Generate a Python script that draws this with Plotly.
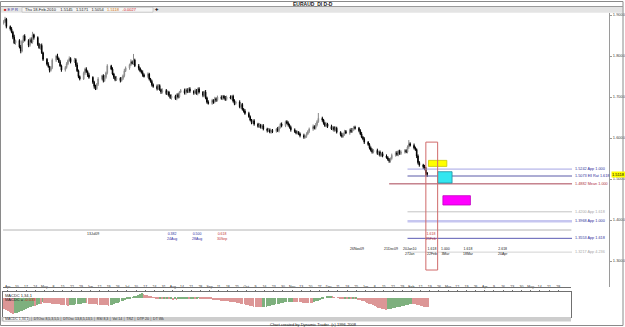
import numpy as np
import pandas as pd
import plotly.graph_objects as go

W, H = 625, 327

# ---------------- data ----------------
symbol_title = "EURAUD_DI D-D"
start_date = "2009-04-01"
first_open = 1.880

closes = [
    1.884, 1.890, 1.872, 1.866, 1.858, 1.846, 1.832, 1.838, 1.822, 1.812,
    1.836, 1.849, 1.838, 1.826, 1.840, 1.834, 1.852, 1.845, 1.828, 1.820,
    1.826, 1.808, 1.792, 1.780, 1.774, 1.765, 1.772, 1.790, 1.800, 1.794,
    1.786, 1.776, 1.766, 1.772, 1.781, 1.789, 1.794, 1.786, 1.791, 1.778,
    1.764, 1.750, 1.744, 1.758, 1.768, 1.762, 1.754, 1.748, 1.736, 1.726,
    1.720, 1.731, 1.744, 1.752, 1.740, 1.748, 1.759, 1.776, 1.768, 1.756,
    1.748, 1.742, 1.746, 1.740, 1.745, 1.752, 1.764, 1.771, 1.779, 1.786,
    1.782, 1.790, 1.776, 1.770, 1.764, 1.760, 1.754, 1.750, 1.756, 1.744,
    1.738, 1.730, 1.726, 1.720, 1.728, 1.718, 1.712, 1.716, 1.708, 1.712,
    1.704, 1.698, 1.702, 1.696, 1.706, 1.700, 1.712, 1.716, 1.710, 1.718,
    1.713, 1.720, 1.714, 1.710, 1.716, 1.708, 1.720, 1.712, 1.704, 1.712,
    1.698, 1.688, 1.684, 1.692, 1.688, 1.696, 1.692, 1.700, 1.696, 1.702,
    1.698, 1.694, 1.700, 1.697, 1.702, 1.690, 1.684, 1.688, 1.676, 1.682,
    1.670, 1.666, 1.660, 1.652, 1.644, 1.638, 1.642, 1.634, 1.628, 1.632,
    1.626, 1.630, 1.622, 1.618, 1.620, 1.614, 1.618, 1.616, 1.622, 1.618,
    1.626, 1.634, 1.630, 1.640, 1.636, 1.632, 1.626, 1.620, 1.616, 1.612,
    1.614, 1.610, 1.606, 1.602, 1.604, 1.610, 1.616, 1.622, 1.628, 1.624,
    1.632, 1.640, 1.648, 1.644, 1.636, 1.630, 1.634, 1.628, 1.622, 1.626,
    1.620, 1.624, 1.614, 1.608, 1.604, 1.610, 1.616, 1.612, 1.620, 1.616,
    1.622, 1.626, 1.624, 1.618, 1.610, 1.602, 1.598, 1.590, 1.584, 1.576,
    1.570, 1.566, 1.570, 1.562, 1.566, 1.558, 1.562, 1.556, 1.552, 1.548,
    1.544, 1.550, 1.558, 1.564, 1.560, 1.568, 1.562, 1.566, 1.570, 1.566,
    1.578, 1.586, 1.582, 1.576, 1.572, 1.556, 1.540, 1.534, 1.530, 1.526,
    1.5145, 1.5118,
]

# wick lengths above / below the candle body, in pips
upper_wick_pips = [
    40, 55, 30, 25, 45, 35, 60, 20, 30, 50, 35, 25, 40, 30, 45, 55, 70, 25, 30, 40,
    35, 45, 25, 30, 50, 20, 35, 40, 30, 55, 25, 45, 30, 35, 40, 25, 50, 30, 45, 35,
    60, 30, 25, 40, 35, 45, 30, 50, 25, 35, 40, 30, 45, 20, 35, 55, 30, 40, 25, 45,
    30, 35, 50, 25, 40, 30, 45, 35, 25, 60, 30, 150, 35, 45, 25, 30, 50, 35, 40, 30,
    25, 40, 30, 45, 35, 30, 25, 50, 35, 40, 30, 25, 45, 35, 30, 40, 25, 35, 45, 30,
    35, 30, 40, 25, 45, 35, 30, 40, 25, 35, 50, 30, 40, 35, 25, 45, 30, 35, 40, 25,
    30, 45, 35, 40, 25, 35, 45, 30, 40, 25, 35, 30, 45, 40, 30, 25, 35, 40, 30, 45,
    25, 35, 40, 30, 45, 35, 30, 40, 25, 50, 35, 30, 40, 25, 35, 45, 30, 40, 35, 30,
    40, 30, 35, 45, 25, 40, 30, 35, 50, 30, 45, 35, 130, 40, 25, 35, 40, 30, 45, 35,
    30, 40, 35, 25, 45, 30, 40, 35, 30, 45, 25, 35, 40, 30, 35, 45, 30, 40, 25, 35,
    35, 45, 30, 40, 25, 35, 30, 45, 40, 35, 30, 25, 40, 35, 45, 30, 35, 40, 30, 25,
    40, 90, 35, 45, 30, 25, 40, 35, 30, 45, 35, 26,
]
lower_wick_pips = [
    35, 30, 45, 40, 25, 50, 30, 45, 35, 55, 30, 40, 25, 45, 35, 30, 40, 50, 35, 25,
    45, 30, 40, 35, 25, 50, 30, 40, 45, 35, 30, 25, 45, 40, 30, 35, 25, 40, 30, 45,
    30, 40, 35, 25, 45, 30, 50, 35, 40, 55, 30, 25, 40, 35, 45, 30, 35, 40, 25, 30,
    40, 35, 30, 45, 25, 35, 40, 30, 45, 35, 25, 40, 30, 50, 35, 30, 45, 25, 40, 35,
    30, 45, 35, 40, 25, 30, 45, 35, 30, 40, 35, 25, 45, 30, 40, 35, 30, 25, 40, 45,
    35, 30, 40, 45, 30, 25, 40, 35, 45, 30, 35, 40, 25, 30, 45, 35, 40, 30, 25, 35,
    40, 35, 30, 25, 45, 35, 40, 30, 35, 45, 30, 40, 35, 25, 30, 45, 35, 40, 30, 35,
    30, 40, 35, 45, 30, 25, 35, 40, 30, 35, 45, 30, 40, 35, 25, 40, 30, 45, 35, 30,
    35, 30, 45, 40, 30, 35, 25, 40, 45, 30, 35, 40, 30, 45, 35, 30, 40, 35, 25, 40,
    45, 35, 30, 40, 35, 30, 45, 25, 40, 35, 30, 45, 35, 40, 30, 25, 35, 45, 30, 40,
    30, 40, 35, 30, 45, 35, 40, 30, 25, 35, 45, 40, 30, 35, 40, 45, 30, 35, 40, 30,
    35, 45, 30, 40, 35, 50, 45, 40, 55, 45, 60, 64,
]

macd_hist = [
    -26, -29, -32, -34, -36, -37,
    -36, -35, -33, -32, -30, -29, -27, -25, -23,
    -21, -19, -20, -17, -14, -15, -11,
    -12, -12.5, -13, -13.5, -14, -14.5, -15, -15.5, -16, -16.5, -17, -17.5, -18, -18.5,
    -18, -17.5, -17, -16, -15.5, -15, -14, -13.5, -13,
    -13.5, -14, -14.5, -15, -15.5, -16, -16.5, -17, -17, -17.5, -18, -18, -18.5,
    -18, -16.5, -15, -13.5, -12, -10.5, -9, -7.5, -6, -4.5, -3,
    -1.5, 0.5, 2.5, 4.5, 6.5, 8, 9.5,
    8, 6.5, 5, 3.5,
    2, 0.5, -1, -2.5, -3, -2.5, -3.5, -3, -4, -3.5, -4.5, -4, -5, -4.5,
    -5, -4.5, -4, -3.5, -3, -2.5, -2, -2.5, -2, -1.5, -2, -1.5, -1, -1.5,
    -2, -2.5, -3, -3.5, -4, -4.5, -5, -5.5, -6, -6.5, -7, -7.5, -8, -8.5, -9, -9.5, -10, -10.5,
    -11, -12, -13, -14, -15, -16, -17, -18, -19, -20, -21, -21.5, -22, -22.5, -23,
    -22.5, -22, -21, -20, -19, -18, -17, -16, -15, -14, -13, -12, -11.5, -11, -10.5, -10, -9.5,
    -10, -10.5, -11, -11.2, -11.5, -11.7, -12, -12.2, -12.5, -12.6, -12.8,
    -11, -9, -7, -5, -3, -1.5, 0, 1.5, 2.5, 3,
    2, 1, 0, -1, -2, -2.5, -3, -2.5, -3.5, -3, -4, -3.5, -4.5, -4, -5, -6, -7,
    -8, -10, -12, -14, -16, -18, -20, -22, -24, -25, -26, -27, -28,
    -27.5, -27, -26, -25, -24, -23, -22, -21, -20, -19, -18, -17, -16, -15,
    -15.5, -16, -17, -18, -19, -20, -21, -22, -23,
]

level_values = [1.5242, 1.5073, 1.4882, 1.4200, 1.3968, 1.3553, 1.3217]
level_labels = ["1.5242 App 1.000", "1.5073 Ell Rat 1.618", "1.4882 Mean 1.000",
                "1.4200 App 1.618", "1.3968 App 1.000", "1.3553 App 1.618",
                "1.3217 App 4.236"]
level_starts = ["2010-02-03", "2010-02-03", "2010-01-20", "2010-02-03",
                "2010-02-03", "2010-02-03", "2010-02-03"]
level_end = "2010-06-08 12:00"
baseline_level = 1.3756
baseline_span = ["2009-03-31 12:00", "2010-06-08"]

zone_x0 = ["2010-02-19", "2010-02-26", "2010-03-02"]
zone_x1 = ["2010-03-05", "2010-03-09", "2010-03-23"]
zone_y0 = [1.5307, 1.4902, 1.4366]
zone_y1 = [1.5454, 1.5178, 1.4593]
window_dates = ["2010-02-17", "2010-02-26"]
window_prices = [1.278, 1.590]

ytick_vals = [1.3, 1.4, 1.5, 1.6, 1.7, 1.8, 1.9]
ytick_text = ["1.3000", "1.4000", "1.5000", "1.6000", "1.7000", "1.8000", "1.9000"]
last_price = 1.5118
info_date = "Thu 18-Feb-2010"
info_ohlc = ["1.5145", "1.5171", "1.5054", "1.5118"]
info_change = "-0.0027"
macd_name = "MACDC 1,34,1"
macd_value = "-0.033"

time_labels_row1 = [("13Jul09", 93, "#202020"), ("0.382<br>24Aug", 172, "#2a2aa0"),
                    ("0.500<br>28Aug", 197, "#2a2aa0"), ("0.618<br>30Sep", 222, "#c03030"),
                    ("1.618<br>25Feb", 431, "#c03030")]
time_labels_row2 = [("26Nov09", 357, "#202020"), ("21Dec09", 391, "#202020"),
                    ("20Jan10<br>27Jan", 409, "#202020"), ("1.618<br>22Feb", 432, "#202020"),
                    ("1.000<br>3Mar", 445, "#202020"), ("1.618<br>18Mar", 468, "#202020"),
                    ("2.618<br>20Apr", 503, "#202020")]

# ---------------- derived ----------------
dates = pd.bdate_range(start_date, periods=len(closes))
opens = [first_open] + closes[:-1]
highs = [max(o, c) + u / 10000 for o, c, u in zip(opens, closes, upper_wick_pips)]
lows = [min(o, c) - l / 10000 for o, c, l in zip(opens, closes, lower_wick_pips)]
RED, GREEN = "#dc9696", "#7eb07e"
bar_colors = [RED] + [GREEN if macd_hist[i] > macd_hist[i - 1] else RED
                      for i in range(1, len(macd_hist))]

fridays = pd.date_range("2009-04-03", "2010-05-28", freq="W-FRI")
friday_labels = [d.strftime("%b") if d.day <= 7 else str(d.day) for d in fridays]

# ---------------- layout helpers ----------------
X0, S = 4.0, 1.835  # px of first candle centre, px per trading day
bgrid = pd.bdate_range("2009-03-02", periods=500)
k0 = bgrid.get_loc(pd.Timestamp(start_date))


def bd(i):
    f = int(np.floor(i))
    return bgrid[k0 + f] + pd.Timedelta(days=float(i - f))


def PX(x):
    return x / W


def PY(y):
    return 1 - y / H


FONT = "Liberation Sans"
rb = [dict(bounds=["sat", "mon"])]

fig = go.Figure()
fig.add_trace(go.Candlestick(
    x=dates, open=opens, high=highs, low=lows, close=closes,
    increasing=dict(line=dict(color="#8a8a8a", width=1), fillcolor="#c6c6c6"),
    decreasing=dict(line=dict(color="#000000", width=1), fillcolor="#000000"),
    whiskerwidth=0, xaxis="x", yaxis="y", showlegend=False, hoverinfo="skip"))
fig.add_trace(go.Bar(
    x=dates, y=macd_hist, marker=dict(color=bar_colors, line=dict(width=0)),
    width=0.42 * 86400000, xaxis="x2", yaxis="y2", showlegend=False, hoverinfo="skip"))

shapes = []
# outer frame and header bands
shapes.append(dict(type="rect", xref="paper", yref="paper", x0=PX(0.5), x1=PX(623), y0=PY(325.5), y1=PY(1.5),
                   line=dict(color="#8a8a8a", width=1)))
shapes.append(dict(type="rect", xref="paper", yref="paper", x0=PX(1), x1=PX(622.5), y0=PY(12.8), y1=PY(6.5),
                   fillcolor="#e4e4e4", line=dict(width=0), layer="below"))
shapes.append(dict(type="line", xref="paper", yref="paper", x0=PX(0.5), x1=PX(623), y0=PY(6.5), y1=PY(6.5),
                   line=dict(color="#9a9a9a", width=1)))
shapes.append(dict(type="rect", xref="paper", yref="paper", x0=PX(22), x1=PX(153), y0=PY(12.2), y1=PY(7.3),
                   fillcolor="#f6f6f6", line=dict(color="#b4b4b4", width=0.6)))
# strip above MACD + status bar
shapes.append(dict(type="line", xref="paper", yref="paper", x0=PX(3), x1=PX(571), y0=PY(287.5), y1=PY(287.5),
                   line=dict(color="#707070", width=1)))
shapes.append(dict(type="rect", xref="paper", yref="paper", x0=PX(1.5), x1=PX(571), y0=PY(321.5), y1=PY(317),
                   fillcolor="#cdcdcd", line=dict(width=0)))
shapes.append(dict(type="rect", xref="paper", yref="paper", x0=PX(3), x1=PX(29), y0=PY(321), y1=PY(317.6),
                   fillcolor="#ffffff", line=dict(color="#808080", width=0.5)))

# level lines
level_line_colors = ["#a4a4e4", "#5a5aa8", "#a84454", "#c4c4c4", "#c6c6f0", "#5c5cb4", "#d2d2d2"]
level_line_widths = [1, 1, 1, 1, 2.5, 1, 1]
level_text_colors = ["#30309a", "#30309a", "#b03040", "#a8a8a8", "#30309a", "#30309a", "#a8a8a8"]
for v, s0, c, w in zip(level_values, level_starts, level_line_colors, level_line_widths):
    shapes.append(dict(type="line", xref="x", yref="y", x0=s0, x1=level_end, y0=v, y1=v,
                       line=dict(color=c, width=w)))
shapes.append(dict(type="line", xref="x", yref="y", x0=baseline_span[0], x1=baseline_span[1],
                   y0=baseline_level, y1=baseline_level, line=dict(color="#b4b4b4", width=1)))

# zones
zone_fill = ["#ffff00", "#33e6f0", "#ff00ff"]
zone_line = ["#c8c800", "#2090a0", "#c000c0"]
for a, b, c, d, f, l in zip(zone_x0, zone_x1, zone_y0, zone_y1, zone_fill, zone_line):
    shapes.append(dict(type="rect", xref="x", yref="y", x0=a, x1=b, y0=c, y1=d,
                       fillcolor=f, line=dict(color=l, width=0.8)))
shapes.append(dict(type="rect", xref="x", yref="y", x0=window_dates[0], x1=window_dates[1],
                   y0=window_prices[0], y1=window_prices[1], line=dict(color="#d06a6a", width=1)))

annotations = []


def ann(x, y, text, size=4, color="#202020", xanchor="left", yanchor="middle", xref="paper", yref="paper", **kw):
    annotations.append(dict(x=x, y=y, xref=xref, yref=yref, text=text, showarrow=False,
                            xanchor=xanchor, yanchor=yanchor, align="center" if xanchor == "center" else "left",
                            font=dict(family=FONT, size=size, color=color), borderpad=0, **kw))


ann(PX(313), PY(4.2), "<b>" + symbol_title + "</b>", size=5, xanchor="center")
ann(PX(2.5), PY(9.6), "<span style='color:#cc2020'>■</span> <span style='color:#3030a0'>E P R</span>", size=4)
info = (info_date + "&nbsp;&nbsp;&nbsp;&nbsp;" + "&nbsp;&nbsp;&nbsp;".join(info_ohlc[:3])
        + "&nbsp;&nbsp;&nbsp;<span style='color:#d07000'>" + info_ohlc[3] + "</span>"
        + "&nbsp;&nbsp;&nbsp;<span style='color:#d02020'>" + info_change + "</span>")
ann(PX(24), PY(9.7), info, size=4)
ann(PX(157), PY(9.5), "✚", size=4, xanchor="center")

for v, t, c in zip(level_values, level_labels, level_text_colors):
    ann(PX(574), v, t, size=3.8, color=c, yref="y")

for t, x, c in time_labels_row1:
    ann(PX(x), PY(231), t, size=3.5, color=c, xanchor="center", yanchor="top")
for t, x, c in time_labels_row2:
    ann(PX(x), PY(246), t, size=3.5, color=c, xanchor="center", yanchor="top")

ann(PX(610.5), last_price, info_ohlc[3], size=4, color="#000000", yref="y",
    bgcolor="#ffff00")

ann(PX(4), PY(295), macd_name, size=4)
ann(PX(4), PY(299.2), "MACDC = <span style='color:#d02020'>" + macd_value + "</span>", size=4)
ann(PX(4), PY(319.3), macd_name + "&nbsp;&nbsp;│ DTOsc 8,5,3,5,5 │ DTOsc 13,8,5,13,5 │ RSI 8,3 │ Vol 14 │ TRZ │ DTP 20 │ DT Wk",
    size=3.5, color="#303030")
ann(PX(313), PY(324), "Chart created by Dynamic Trader  (c) 1996-2008", size=4, xanchor="center")

fig.update_layout(
    width=W, height=H, margin=dict(l=0, r=0, t=0, b=0),
    paper_bgcolor="white", plot_bgcolor="white", showlegend=False, bargap=0,
    xaxis=dict(domain=[PX(3), PX(609)], range=[bd((3 - X0) / S), bd((609 - X0) / S)],
               rangebreaks=rb, visible=False, rangeslider=dict(visible=False), anchor="y"),
    yaxis=dict(domain=[PY(287), PY(13)], range=[1.2366, 1.9049], side="right", anchor="x",
               showgrid=False, zeroline=False, showline=True, linecolor="#9a9a9a", linewidth=1,
               ticks="outside", ticklen=2, tickcolor="#9a9a9a", tickvals=ytick_vals, ticktext=ytick_text,
               tickfont=dict(family=FONT, size=4, color="#404040")),
    xaxis2=dict(domain=[PX(3), PX(571)], range=[bd((3 - X0) / S), bd((571 - X0) / S)],
                rangebreaks=rb, anchor="y2", side="top", showgrid=False, showline=True, mirror=True,
                linecolor="#707070", linewidth=1, ticks="outside", ticklen=1.5, tickcolor="#707070",
                tickvals=list(fridays), ticktext=friday_labels, tickangle=0,
                tickfont=dict(family=FONT, size=3.5, color="#303030")),
    yaxis2=dict(domain=[PY(317), PY(292)], range=[-45, 12.7], anchor="x2", showgrid=False,
                zeroline=False, showline=True, mirror=True, linecolor="#707070", linewidth=1,
                showticklabels=False, ticks=""),
    shapes=shapes, annotations=annotations,
)

fig.write_html("out.html")
